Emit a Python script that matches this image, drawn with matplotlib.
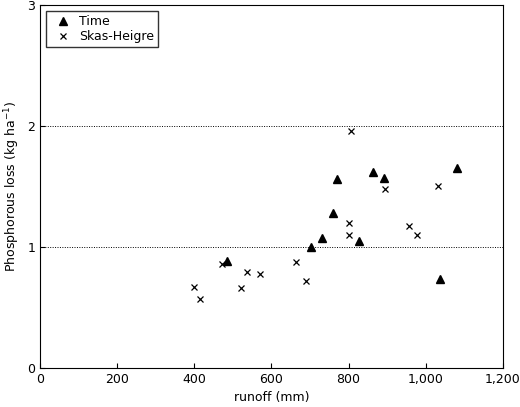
import matplotlib.pyplot as plt
from matplotlib.ticker import FuncFormatter

# Data
time_x = [484, 703, 731, 760, 771, 828, 864, 893, 1036, 1082]
time_y = [0.88, 1.00, 1.07, 1.28, 1.565, 1.05, 1.62, 1.57, 0.735, 1.655]
skas_x = [398, 415, 471, 520, 536, 571, 664, 690, 800, 801, 807, 895, 957, 977, 1033]
skas_y = [0.67, 0.57, 0.86, 0.66, 0.79, 0.78, 0.876, 0.716, 1.10, 1.20, 1.96, 1.48, 1.17, 1.10, 1.50]

fig = plt.figure(figsize=(5.2, 4.07), dpi=100)
ax = fig.add_axes([0.077, 0.096, 0.890, 0.892])
ax.plot(time_x, time_y, linestyle="none", marker="^", color="black", markersize=6, label="Time")
ax.plot(skas_x, skas_y, linestyle="none", marker="x", color="black", markersize=5,
        markeredgewidth=0.9, label="Skas-Heigre")

ax.set_xlim(0, 1200)
ax.set_ylim(0, 3)
ax.set_xticks(range(0, 1201, 200))
ax.set_yticks([0, 1, 2, 3])
ax.xaxis.set_major_formatter(FuncFormatter(lambda v, p: f"{int(v):,}"))
for yv in [1, 2]:
    ax.axhline(yv, color="black", linestyle=(0, (1, 1.5)), linewidth=0.7)
ax.tick_params(direction="in", labelsize=9, top=False, right=False)
ax.set_xlabel("runoff (mm)", fontsize=9)
ax.set_ylabel("Phosphorous loss (kg ha$^{-1}$)", fontsize=9)
ax.legend(loc="upper left", fontsize=9, fancybox=False, edgecolor="black",
          handletextpad=0.3, borderpad=0.3, labelspacing=0.2)

fig.savefig("out.png", dpi=100)
